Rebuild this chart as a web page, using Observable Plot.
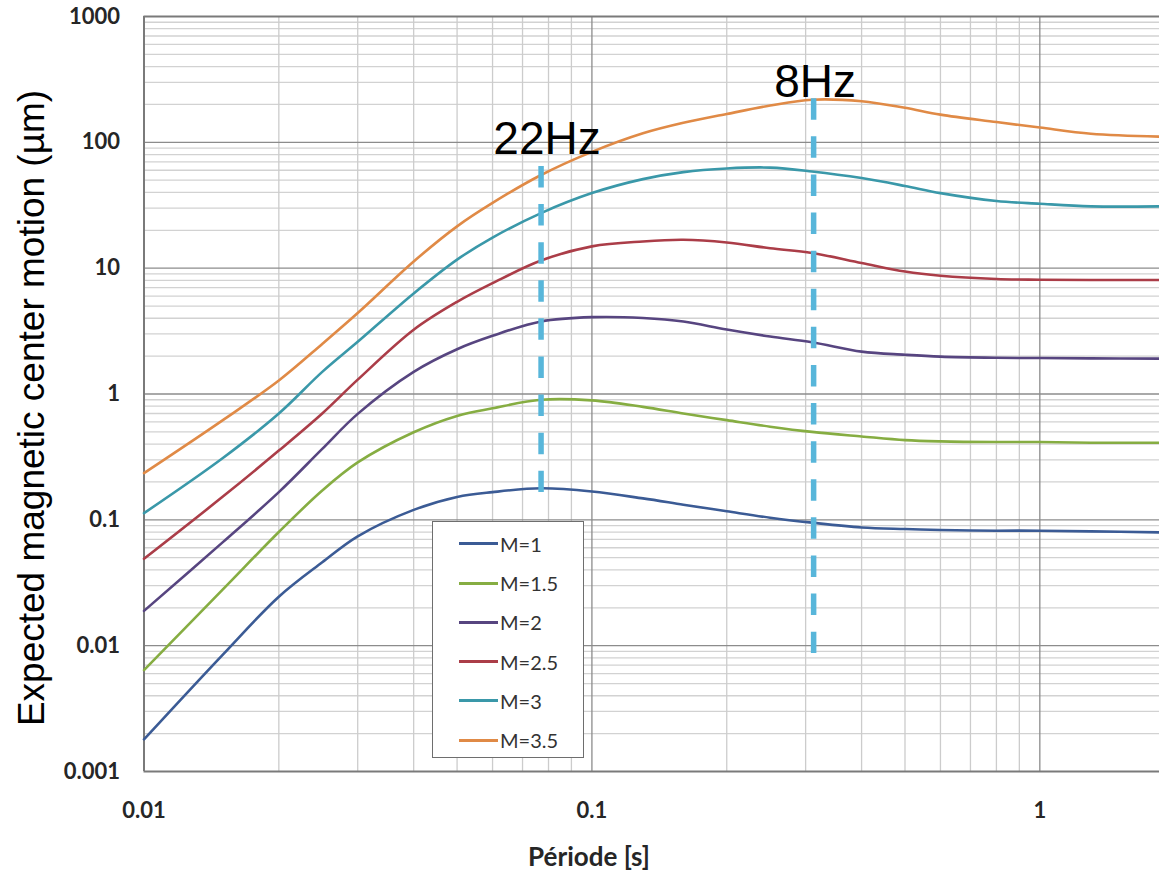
<!DOCTYPE html>
<html><head><meta charset="utf-8">
<script src="https://cdn.jsdelivr.net/npm/d3@7"></script>
<script src="https://cdn.jsdelivr.net/npm/@observablehq/plot@0.6"></script>
<style>
body{margin:0;background:#fff;}
#wrap{position:relative;width:1159px;height:870px;overflow:hidden;background:#fff;}
#legend{position:absolute;left:432px;top:521px;width:150px;height:235px;border:1.5px solid #6e6e6e;background:#fff;}
.item{position:absolute;left:26px;height:22px;display:flex;align-items:center;font:20px Lato, sans-serif;color:#333;white-space:nowrap;}
.swatch{width:39px;height:3px;margin-right:2px;}
g[aria-label="y-axis tick label"], g[aria-label="x-axis tick label"]{font-weight:bold;}
</style></head><body><div id="wrap"></div>
<script>
// ---- data ----
const periods = [0.01, 0.015, 0.02, 0.025, 0.03, 0.04, 0.05, 0.06, 0.077, 0.1, 0.13, 0.16, 0.2, 0.25, 0.31, 0.4, 0.5, 0.6, 0.8, 1, 1.3, 1.85];
const m1  = [0.0018, 0.0085, 0.0245, 0.046, 0.074, 0.12, 0.152, 0.166, 0.178, 0.168, 0.148, 0.132, 0.117, 0.104, 0.095, 0.087, 0.0845, 0.083, 0.082, 0.082, 0.081, 0.0795];
const m15 = [0.0064, 0.028, 0.08, 0.171, 0.286, 0.497, 0.67, 0.77, 0.9, 0.89, 0.79, 0.70, 0.62, 0.55, 0.5, 0.46, 0.43, 0.42, 0.415, 0.415, 0.41, 0.41];
const m2  = [0.0189, 0.0665, 0.166, 0.366, 0.695, 1.5, 2.27, 2.9, 3.77, 4.08, 4.02, 3.77, 3.25, 2.86, 2.58, 2.17, 2.05, 1.98, 1.94, 1.93, 1.92, 1.91];
const m25 = [0.049, 0.153, 0.355, 0.70, 1.3, 3.24, 5.4, 7.6, 11.5, 14.9, 16.3, 16.8, 16, 14.4, 13.2, 11, 9.4, 8.7, 8.2, 8.1, 8.05, 8.05];
const m3  = [0.113, 0.31, 0.7, 1.5, 2.6, 6.3, 11.7, 17.5, 27.4, 39.5, 51, 58, 62, 63, 58.7, 52, 45, 39.5, 34.2, 32.5, 31, 31];
const m35 = [0.235, 0.62, 1.28, 2.5, 4.4, 11.3, 21.5, 33, 55, 84, 118, 143, 168, 196, 218, 212, 188, 166, 145, 131, 117, 111];

const seriesNames  = ["M=1", "M=1.5", "M=2", "M=2.5", "M=3", "M=3.5"];
const seriesValues = [m1, m15, m2, m25, m3, m35];
const seriesColors = ["#3b5b95", "#86ad42", "#574580", "#ab3d48", "#3a98a9", "#e08a46"];

const yTicks = [0.001, 0.01, 0.1, 1, 10, 100, 1000];
const xTicks = [0.01, 0.1, 1];
const minorSteps = [2, 3, 4, 5, 6, 7, 8, 9];

const markerLabels  = ["22Hz", "8Hz"];
const markerPeriods = [0.077, 0.3126];
const markerTop     = [64.3, 222];
const markerBottom  = [0.165, 0.00867];
const labelPeriods  = [0.0794, 0.3149];
const labelValues   = [81.1, 231.3];

const yTitle = "Expected magnetic center motion (µm)";
const xTitle = "Période [s]";
const xTitlePeriod = [0.0985];

// ---- build tables ----
const tidy = [];
seriesNames.forEach((name, s) => periods.forEach((p, i) => tidy.push({series: name, period: p, value: seriesValues[s][i]})));
const xMax = 1.85;
const minorY = yTicks.slice(0, -1).flatMap(d => minorSteps.map(m => d * m));
const minorX = xTicks.flatMap(d => minorSteps.map(m => d * m)).filter(v => v < xMax);
const majorY = yTicks.slice(1, -1);
const majorX = xTicks.slice(1);
const markers = markerLabels.map((t, i) => ({t, x: markerPeriods[i], y1: markerTop[i], y2: markerBottom[i], lx: labelPeriods[i], ly: labelValues[i]}));

const plot = Plot.plot({
  width: 1159, height: 870,
  marginLeft: 143.5, marginRight: 0, marginTop: 16, marginBottom: 99,
  style: {fontFamily: "Lato, sans-serif", background: "#fff", overflow: "visible"},
  x: {type: "log", domain: [0.01, xMax]},
  y: {type: "log", domain: [0.001, 1000]},
  color: {domain: seriesNames, range: seriesColors},
  marks: [
    Plot.ruleY(minorY, {stroke: "#d2d2d2", strokeWidth: 1.3}),
    Plot.ruleX(minorX, {stroke: "#cccccc", strokeWidth: 1.3}),
    Plot.ruleY(majorY, {stroke: "#8c8c8c", strokeWidth: 1.3}),
    Plot.ruleX(majorX, {stroke: "#8c8c8c", strokeWidth: 1.3}),
    Plot.ruleX([xTicks[0]], {stroke: "#7a7a7a", strokeWidth: 2}),
    Plot.ruleY([yTicks[0], yTicks[yTicks.length - 1]], {stroke: "#7a7a7a", strokeWidth: 2}),
    Plot.line(tidy, {x: "period", y: "value", z: "series", stroke: "series", strokeWidth: 2.6, curve: "catmull-rom"}),
    Plot.ruleX(markers, {x: "x", y1: "y1", y2: "y2", stroke: "#58b6da", strokeWidth: 5.5, strokeDasharray: "21.5,16.6"}),
    Plot.text(markers, {x: "lx", y: "ly", text: "t", lineAnchor: "bottom", fontSize: 46, fontFamily: "'Liberation Sans', Arial, sans-serif", fill: "#000"}),
    Plot.axisY({ticks: yTicks, tickFormat: d => String(d), tickSize: 0, tickPadding: 24, fontSize: 22, fontWeight: "bold", fill: "#262626", label: null}),
    Plot.axisX({ticks: xTicks, tickFormat: d => String(d), tickSize: 0, tickPadding: 31, fontSize: 22, fontWeight: "bold", fill: "#262626", label: null}),
    Plot.text([yTitle], {frameAnchor: "left", textAnchor: "middle", dx: -112, dy: 14, rotate: -90, fontSize: 37, fontFamily: "'Liberation Sans', Arial, sans-serif", fill: "#000"}),
    Plot.text([xTitle], {x: xTitlePeriod, frameAnchor: "bottom", textAnchor: "middle", dy: 94, lineAnchor: "bottom", fontSize: 26, fontWeight: "bold", fill: "#262626"})
  ]
});
const wrap = document.getElementById("wrap");
wrap.appendChild(plot);

// legend (HTML overlay)
const legend = document.createElement("div");
legend.id = "legend";
seriesNames.forEach((name, i) => {
  const it = document.createElement("div");
  it.className = "item";
  it.style.top = (21.7 + i * 39.3 - 11) + "px";
  const sw = document.createElement("span");
  sw.className = "swatch";
  sw.style.background = seriesColors[i];
  const lab = document.createElement("span");
  lab.textContent = name;
  it.appendChild(sw); it.appendChild(lab);
  legend.appendChild(it);
});
wrap.appendChild(legend);
</script></body></html>
